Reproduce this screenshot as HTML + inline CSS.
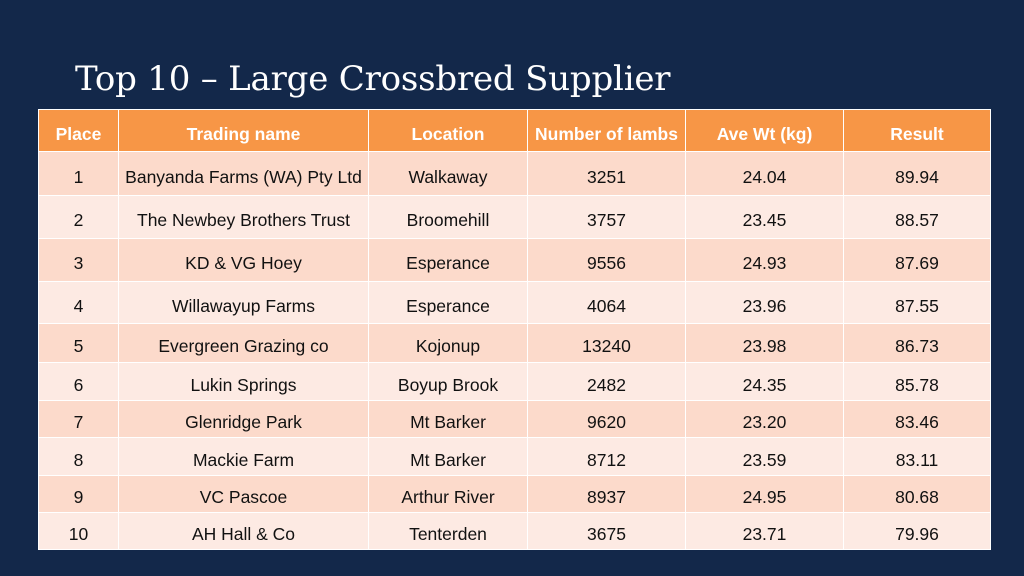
<!DOCTYPE html>
<html><head><meta charset="utf-8"><style>
body{margin:0;width:1024px;height:576px;background:#13284a;overflow:hidden;position:relative;font-family:"Liberation Sans",sans-serif}
h1{position:absolute;left:75px;top:56px;margin:0;font-family:"DejaVu Serif",serif;font-weight:normal;font-size:34px;color:#fff;letter-spacing:-0.2px;line-height:46px}
table{position:absolute;left:38px;top:109px;width:952px;border-collapse:collapse;table-layout:fixed}
td,th{border:1.5px solid #fff;text-align:center;font-size:17.5px;color:#111;padding:7px 0 0 0;box-sizing:border-box}
th{background:#f79646;color:#fff;font-weight:bold;height:42px}
tr.o td{background:#fcdacb}
tr.e td{background:#fdeae3}
</style></head><body>
<h1>Top 10 – Large Crossbred Supplier</h1>
<table>
<colgroup><col style="width:80px"><col style="width:250px"><col style="width:159px"><col style="width:158px"><col style="width:158px"><col style="width:147px"></colgroup>
<tr><th>Place</th><th>Trading name</th><th>Location</th><th>Number of lambs</th><th>Ave Wt (kg)</th><th>Result</th></tr>
<tr class="o" style="height:44px"><td>1</td><td>Banyanda Farms (WA) Pty Ltd</td><td>Walkaway</td><td>3251</td><td>24.04</td><td>89.94</td></tr>
<tr class="e" style="height:43px"><td>2</td><td>The Newbey Brothers Trust</td><td>Broomehill</td><td>3757</td><td>23.45</td><td>88.57</td></tr>
<tr class="o" style="height:43px"><td>3</td><td>KD &amp; VG Hoey</td><td>Esperance</td><td>9556</td><td>24.93</td><td>87.69</td></tr>
<tr class="e" style="height:42px"><td>4</td><td>Willawayup Farms</td><td>Esperance</td><td>4064</td><td>23.96</td><td>87.55</td></tr>
<tr class="o" style="height:39px"><td>5</td><td>Evergreen Grazing co</td><td>Kojonup</td><td>13240</td><td>23.98</td><td>86.73</td></tr>
<tr class="e" style="height:38px"><td>6</td><td>Lukin Springs</td><td>Boyup Brook</td><td>2482</td><td>24.35</td><td>85.78</td></tr>
<tr class="o" style="height:37px"><td>7</td><td>Glenridge Park</td><td>Mt Barker</td><td>9620</td><td>23.20</td><td>83.46</td></tr>
<tr class="e" style="height:38px"><td>8</td><td>Mackie Farm</td><td>Mt Barker</td><td>8712</td><td>23.59</td><td>83.11</td></tr>
<tr class="o" style="height:37px"><td>9</td><td>VC Pascoe</td><td>Arthur River</td><td>8937</td><td>24.95</td><td>80.68</td></tr>
<tr class="e" style="height:37px"><td>10</td><td>AH Hall &amp; Co</td><td>Tenterden</td><td>3675</td><td>23.71</td><td>79.96</td></tr>
</table>
</body></html>
